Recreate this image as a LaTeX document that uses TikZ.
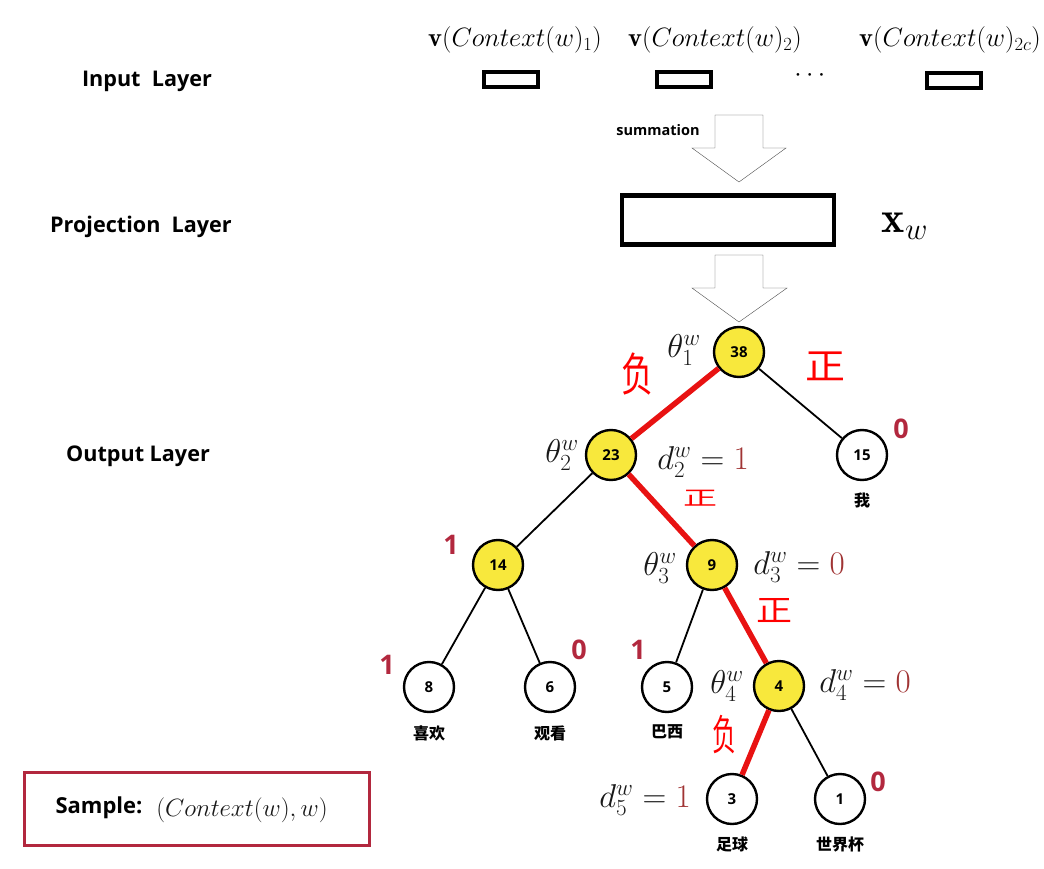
\RequirePackage{fix-cm}
\documentclass[tikz,border=0pt]{standalone}
\usepackage{amsmath}
\usepackage{fontspec}
\usepackage{tikz}
\usetikzlibrary{positioning}

\newfontfamily\labelfont{Open Sans}
\newfontfamily\cjk{Noto Sans CJK SC}
\definecolor{nodeyellow}{RGB}{248,232,60}
\definecolor{bitred}{RGB}{178,40,62}
\definecolor{dred}{RGB}{160,52,52}
\definecolor{pathred}{RGB}{232,18,18}
\definecolor{pen}{RGB}{255,0,0}

\begin{document}
\begin{tikzpicture}[x=1pt, y=-1pt, semithick, node distance=100pt, on grid,
    every node/.style={inner sep=0pt},
    hnode/.style={circle, draw, line width=2.4pt, minimum size=50pt, fill=white, font=\labelfont\bfseries\fontsize{15}{17}\selectfont},
    hot/.style={hnode, fill=nodeyellow},
    layer/.style={font=\labelfont\bfseries\fontsize{21.6}{25}\selectfont},
    vecbox/.style={draw, line width=4pt, minimum width=54pt, minimum height=15pt},
    blockarrow/.style={draw=black!70, thin, fill=white},
    topmath/.style={font=\fontsize{26.5}{30}\selectfont},
    treemath/.style={font=\fontsize{33}{38}\selectfont, text=black!90},
    bit/.style={font=\labelfont\bfseries\fontsize{27}{30}\selectfont, text=bitred},
    word/.style={font=\cjk\bfseries\fontsize{16}{18}\selectfont},
    pencil/.style={font=\cjk\fontsize{40}{44}\selectfont, text=pen}]

    \useasboundingbox (0,0) rectangle (1044,869);

    % layers
    \node[layer] (inlab)   at (147,81)  {Input\ \ Layer};
    \node[layer] (projlab) at (141,227) {Projection\ \ Layer};
    \node[layer] (outlab)  at (138,456) {Output Layer};

    \node[topmath] (c1) at (515,40) {$\mathbf{v}(Context(w)_1)$};
    \node[topmath] (c2) at (715,40) {$\mathbf{v}(Context(w)_2)$};
    \node[topmath] (c3) at (950,40) {$\mathbf{v}(Context(w)_{2c})$};
    \node[vecbox] (in1) at (511,80) {};
    \node[vecbox] (in2) at (684,80) {};
    \node[vecbox] (in3) at (954,81) {};
    \node[topmath] (dots) at (812,76) {$\cdots$};

    \draw[blockarrow] (715,115) -- (763,115) -- (763,148) -- (786,148) -- (739,182) -- (692,148) -- (715,148) -- cycle;
    \node[font=\labelfont\bfseries\fontsize{14.5}{16}\selectfont] (sum) at (658,130) {summation};

    \node[draw, line width=4.5pt, minimum width=212pt, minimum height=49pt] (proj) at (728,220) {};
    \node[font=\fontsize{44}{48}\selectfont] (xw) at (905,226) {$\mathbf{x}_w$};

    \draw[blockarrow] (715,255) -- (763,255) -- (763,288) -- (787,288) -- (739,322) -- (692,288) -- (715,288) -- cycle;

    % huffman tree
    \node[hot]   (n38) at (739,352) {38};
    \node[hot]   (n23) [below left=103pt and 128pt of n38] {23};
    \node[hnode] (n15) [below right=103pt and 123pt of n38] {15};
    \node[hot]   (n14) [below left=110pt and 113pt of n23] {14};
    \node[hot]   (n9)  [below right=110pt and 101pt of n23] {9};
    \node[hnode] (n8)  [below left=122pt and 69pt of n14] {8};
    \node[hnode] (n6)  [below right=122pt and 52pt of n14] {6};
    \node[hnode] (n5)  [below left=122pt and 45pt of n9] {5};
    \node[hot]   (n4)  [below right=121pt and 67pt of n9] {4};
    \node[hnode] (n3)  [below left=113pt and 47pt of n4] {3};
    \node[hnode] (n1)  [below right=113pt and 61pt of n4] {1};

    \path (n38) edge[pathred, line width=5.5pt] (n23)
          (n38) edge[line width=1.8pt]          (n15)
          (n23) edge[line width=1.8pt]          (n14)
          (n23) edge[pathred, line width=5.5pt] (n9)
          (n14) edge[line width=1.8pt]          (n8)
          (n14) edge[line width=1.8pt]          (n6)
          (n9)  edge[line width=1.8pt]          (n5)
          (n9)  edge[pathred, line width=5.5pt] (n4)
          (n4)  edge[pathred, line width=5.5pt] (n3)
          (n4)  edge[line width=1.8pt]          (n1);

    % parameters and codes
    \node[treemath] (t1) at (684,350) {$\theta^w_1$};
    \node[treemath] (t2) at (562,455) {$\theta^w_2$};
    \node[treemath] (t3) at (660,568) {$\theta^w_3$};
    \node[treemath] (t4) at (727,686) {$\theta^w_4$};
    \node[treemath] (d2) at (703,462) {$d^w_2 = \textcolor{dred}{1}$};
    \node[treemath] (d3) at (799,567) {$d^w_3 = \textcolor{dred}{0}$};
    \node[treemath] (d4) at (865,685) {$d^w_4 = \textcolor{dred}{0}$};
    \node[treemath] (d5) at (645,800) {$d^w_5 = \textcolor{dred}{1}$};

    \node[bit] (b15) at (901,429) {0};
    \node[bit] (b14) at (451,545) {1};
    \node[bit] (b8)  at (387,665) {1};
    \node[bit] (b6)  at (579,650) {0};
    \node[bit] (b5)  at (638,650) {1};
    \node[bit] (b1)  at (878,782) {0};

    \node[word] (w15) [below=45pt of n15] {我};
    \node[word] (w8)  [below=46pt of n8]  {喜欢};
    \node[word] (w6)  [below=46pt of n6]  {观看};
    \node[word] (w5)  [below=45pt of n5]  {巴西};
    \node[word] (w3)  [below=45pt of n3]  {足球};
    \node[word] (w1)  [below=45pt of n1]  {世界杯};

    % pen marks
    \node[pencil, xscale=0.8, yscale=1.15] (p1) at (637,374) {负};
    \node[pencil, yscale=0.9]              (p2) at (825,366) {正};
    \node[pencil, xscale=0.85, yscale=0.5] (p3) at (700,498) {正};
    \node[pencil, xscale=0.9, yscale=0.75] (p4) at (774,611) {正};
    \node[pencil, xscale=0.6, yscale=1.05] (p5) at (724,735) {负};

    % sample
    \node[draw=bitred, line width=3.5pt, minimum width=345pt, minimum height=73pt] (samp) at (197,809) {};
    \node[font=\labelfont\bfseries\fontsize{22}{25}\selectfont] (slab) at (99,808) {Sample:};
    \node[font=\fontsize{25}{28}\selectfont, text=black!90] (sval) at (242,810) {$(Context(w), w)$};
\end{tikzpicture}
\end{document}
